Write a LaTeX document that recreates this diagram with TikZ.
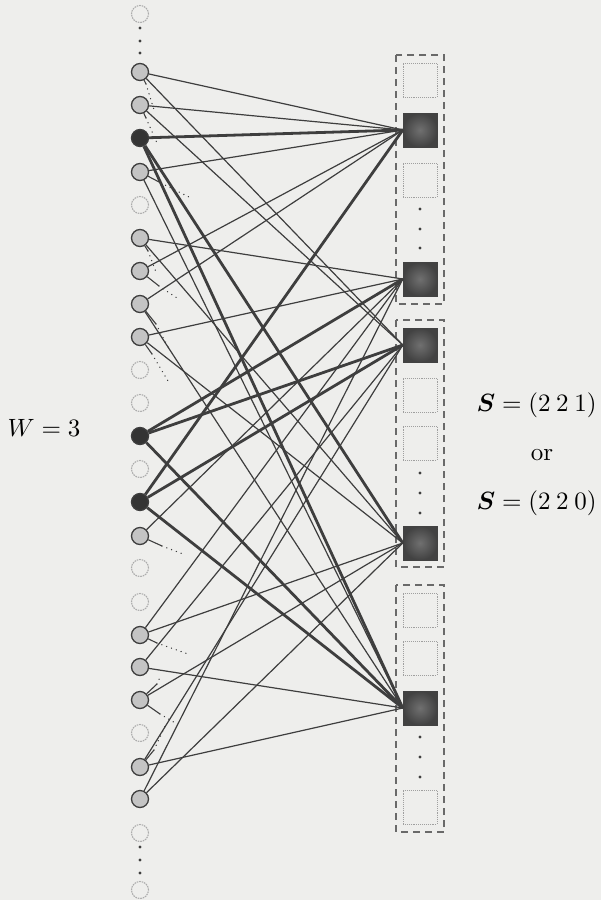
\documentclass[tikz,border=0pt]{standalone}
\usepackage{bm}
\definecolor{ink}{RGB}{62,62,62}
\definecolor{nodegray}{RGB}{196,196,196}
\definecolor{errfill}{RGB}{52,52,52}
\definecolor{chkin}{RGB}{112,112,112}
\definecolor{chkout}{RGB}{66,66,66}
\definecolor{paper}{RGB}{238,238,236}
\definecolor{framegray}{RGB}{105,105,105}
\begin{document}
\begin{tikzpicture}[x=1pt,y=-1pt,
  vnode/.style={circle, minimum size=17pt, inner sep=0pt, line width=1.3pt},
  opennode/.style={vnode, draw=gray!65, dash pattern=on 1.6pt off 0.9pt, line width=1.1pt},
  graynode/.style={vnode, draw=ink, fill=nodegray},
  errnode/.style={vnode, draw=ink, fill=errfill},
  chk/.style={rectangle, minimum size=34pt, inner sep=0pt},
  lightchk/.style={chk, draw=gray!75, densely dotted, line width=0.9pt},
  darkchk/.style={chk, shading=radial, inner color=chkin, outer color=chkout, draw=chkout},
  grp/.style={draw=framegray, dash pattern=on 7pt off 5pt, line width=1.4pt},
  link/.style={draw=ink, line width=1.2pt},
  thicklink/.style={draw=ink, line width=2.8pt},
  stubsolid/.style={draw=ink, line width=1.1pt},
  stubdots/.style={draw=ink, line width=1.4pt, line cap=round, dash pattern=on 0.1pt off 5pt},
  lbl/.style={scale=2.5, inner sep=0pt}
]
\useasboundingbox (0,0) rectangle (601,900);
\fill[paper] (0,0) rectangle (601,900);

% group frames
\draw[grp] (396,55) rectangle (444,304);
\draw[grp] (396,320) rectangle (444,567);
\draw[grp] (396,585) rectangle (444,832);

% variable nodes
\foreach \y in {14,205,370,403,469,568,602,733,833,890}
  \node[opennode] (c\y) at (140,\y) {};
\foreach \y in {72,105,172,238,271,304,337,536,635,667,700,767,799}
  \node[graynode] (c\y) at (140,\y) {};
\foreach \y in {138,436,502}
  \node[errnode] (c\y) at (140,\y) {};

% check nodes
\foreach \y in {80,180,395,443,610,658,807}
  \node[lightchk] (s\y) at (420,\y) {};
\node[darkchk] (A) at (420,130) {};
\node[darkchk] (B) at (420,279) {};
\node[darkchk] (C) at (420,345) {};
\node[darkchk] (D) at (420,543) {};
\node[darkchk] (E) at (420,708) {};

% vertical ellipses
\foreach \y in {28,41,53,847,860,873}
  \fill[ink] (140,\y) circle (1.6pt);
\foreach \y in {209,229,248,473,493,513,737,757,777}
  \fill[ink] (420,\y) circle (1.7pt);

% thin connectors
\foreach \v in {72,105,172,271,304} \draw[link] (c\v) -- (A.west);
\foreach \v in {238,337,536,635,799} \draw[link] (c\v) -- (B.west);
\foreach \v in {72,105,667,767} \draw[link] (c\v) -- (C.west);
\foreach \v in {238,337,635,700,799} \draw[link] (c\v) -- (D.west);
\foreach \v in {172,304,667,767} \draw[link] (c\v) -- (E.west);

% thick connectors (error positions)
\draw[thicklink] (c138) -- (A.west);
\draw[thicklink] (c138) -- (D.west);
\draw[thicklink] (c138) -- (E.west);
\draw[thicklink] (c436) -- (B.west);
\draw[thicklink] (c436) -- (C.west);
\draw[thicklink] (c436) -- (E.west);
\draw[thicklink] (c502) -- (A.west);
\draw[thicklink] (c502) -- (C.west);
\draw[thicklink] (c502) -- (E.west);

% dotted stubs towards unshown checks
\foreach \k/\v/\ax/\ay/\bx/\by in {
  72/72/146/84/155/113,
  105/105/146/118/157/143,
  172/172/161/183/189/197,
  238/238/148/251/156/272,
  271/271/159/286/177/298,
  304/304/156/324/168/347,
  337/337/152/354/168/381,
  536/536/162/546/183/554,
  635/635/157/643/188/654,
  700a/700/157/684/161/675,
  700b/700/160/714/177/724,
  767/767/154/750/166/724}
{
  \coordinate (u\k) at (\ax,\ay);
  \coordinate (w\k) at (\bx,\by);
  \draw[stubsolid] (c\v) -- (u\k);
  \draw[stubdots] (u\k) -- (w\k);
}

% labels
\node[lbl, anchor=west] (wlab) at (7,428) {$W=3$};
\node[lbl, anchor=west] (slab1) at (476,405) {$\bm{S}=(2\:2\:1)$};
\node[lbl] (orlab) at (542,455) {or};
\node[lbl, anchor=west] (slab2) at (476,503) {$\bm{S}=(2\:2\:0)$};
\end{tikzpicture}
\end{document}
